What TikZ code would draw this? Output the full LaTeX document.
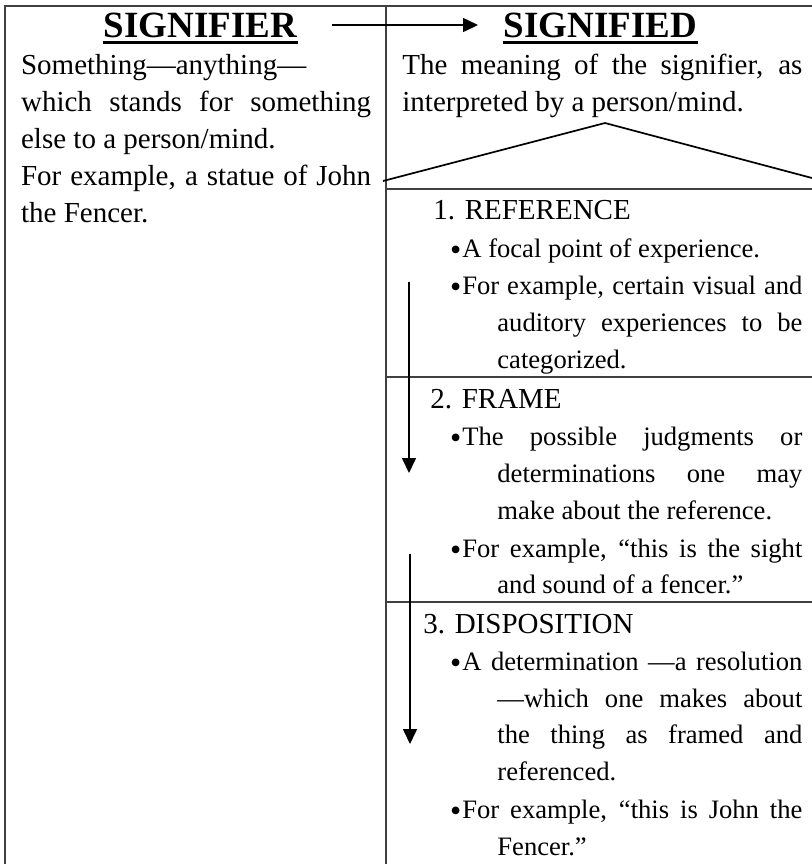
\documentclass[tikz,border=0pt]{standalone}
\usepackage{fontspec}
\setmainfont{Liberation Serif}
\usetikzlibrary{arrows.meta, positioning}

% one justified line of a given width
\newcommand{\justline}[2]{\makebox[#1][s]{#2}}
% a larger bullet, as in the original
\newcommand{\bul}{\makebox[5.5pt][l]{\hspace{-0.6pt}\raisebox{-1.5pt}{\fontsize{16}{16}\selectfont\textbullet}}}

\begin{document}
\begin{tikzpicture}[
    x=0.5pt, y=-0.5pt,
    % Text styles
    body/.style={anchor=base west, inner sep=0pt, font=\fontsize{14.5}{17}\selectfont},
    small/.style={body, font=\fontsize{13.3}{16}\selectfont},
    title/.style={anchor=base, inner sep=0pt, font=\fontsize{18.5}{21}\selectfont\bfseries},
    % Line styles
    rule/.style={draw=black!75, line width=0.8pt},
    uline/.style={line width=1.4pt},
    link/.style={line width=0.8pt, -{Triangle[length=7.5pt, width=7pt]}}
]
\useasboundingbox (0,0) rectangle (812,864);

% Define column parameters
\def\leftx{20.7}
\def\rightx{402}
\def\bulx{451}
\def\contx{497}

% Table rules
\draw[rule] (5,864) -- (5,6) -- (812,6);
\draw[rule] (386,6) -- (386,864);
\draw[rule] (386,189) -- (812,189);
\draw[rule] (386,377) -- (812,377);
\draw[rule] (386,602) -- (812,602);

% Headings
\node (signifier) at (200.5,37) [title] {SIGNIFIER};
\node (signified) at (600.5,37) [title] {SIGNIFIED};
\draw[uline] ([yshift=-2.85pt]signifier.base west) -- ([yshift=-2.85pt]signifier.base east);
\draw[uline] ([yshift=-2.85pt]signified.base west) -- ([yshift=-2.85pt]signified.base east);
\coordinate (arrowfrom) at (332,25);
\coordinate (arrowto) at (478,25);
\draw[link] (arrowfrom) -- (arrowto);

% Left column
\node (l1) at (\leftx,74) [body] {Something—anything—};
\node (l2) at (\leftx,111) [body] {\justline{175pt}{which stands for something}};
\node (l3) at (\leftx,148) [body] {else to a person/mind.};
\node (l4) at (\leftx,185) [body] {\justline{175pt}{For example, a statue of John}};
\node (l5) at (\leftx,222) [body] {the Fencer.};

% Right column (top)
\node (r1) at (\rightx,74) [body] {\justline{200pt}{The meaning of the signifier, as}};
\node (r2) at (\rightx,111) [body] {interpreted by a person/mind.};

% Triangle
\coordinate (triL) at (383,181);
\coordinate (triT) at (605,123);
\coordinate (triR) at (812,178);
\draw[line width=0.85pt] (triL) -- (triT) -- (triR);

% 1. Reference
\node (ref) at (433,219) [body] {1. REFERENCE};
\node (ref1) at (\bulx,257) [small] {\bul A focal point of experience.};
\node (ref2) at (\bulx,294) [small] {\justline{175.5pt}{\bul For example, certain visual and}};
\node (ref3) at (\contx,331) [small] {\justline{152.5pt}{auditory experiences to be}};
\node (ref4) at (\contx,368) [small] {categorized.};

% 2. Frame
\node (frm) at (430,408) [body] {2. FRAME};
\node (frm1) at (\bulx,445) [small] {\justline{175.5pt}{\bul The possible judgments or}};
\node (frm2) at (\contx,482) [small] {\justline{152.5pt}{determinations one may}};
\node (frm3) at (\contx,519) [small] {make about the reference.};
\node (frm4) at (\bulx,557) [small] {\justline{175.5pt}{\bul For example, “this is the sight}};
\node (frm5) at (\contx,593) [small] {and sound of a fencer.”};

% 3. Disposition
\node (dsp) at (423,633) [body] {3. DISPOSITION};
\node (dsp1) at (\bulx,670) [small] {\justline{175.5pt}{\bul A determination —a resolution}};
\node (dsp2) at (\contx,707) [small] {\justline{152.5pt}{—which one makes about}};
\node (dsp3) at (\contx,743) [small] {\justline{152.5pt}{the thing as framed and}};
\node (dsp4) at (\contx,780) [small] {referenced.};
\node (dsp5) at (\bulx,818) [small] {\justline{175.5pt}{\bul For example, “this is John the}};
\node (dsp6) at (\contx,855) [small] {Fencer.”};

% Downward arrows
\coordinate (down1a) at (409,282);
\coordinate (down1b) at (409,473);
\coordinate (down2a) at (410,554);
\coordinate (down2b) at (410,744);
\draw[link] (down1a) -- (down1b);
\draw[link] (down2a) -- (down2b);
\end{tikzpicture}
\end{document}
